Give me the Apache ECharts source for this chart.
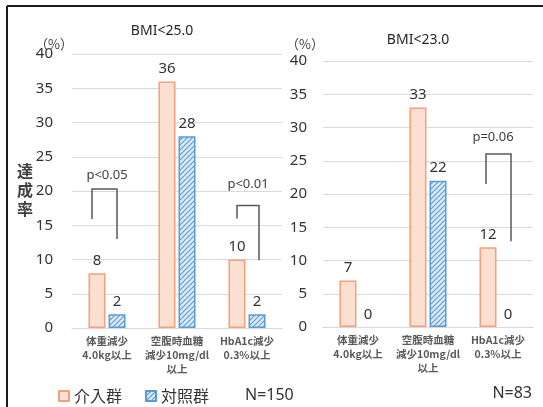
<!DOCTYPE html>
<html><head><meta charset="utf-8">
<script src="https://cdn.jsdelivr.net/npm/echarts@6/dist/echarts.min.js"></script>
<style>html,body{margin:0;padding:0;background:#fff}#c{width:543px;height:407px}</style>
</head><body><div id="c"></div>
<script>
const categories = ['体重減少\n4.0kg以上', '空腹時血糖\n減少10mg/dl\n以上', 'HbA1c減少\n0.3%以上'];
const intervention25 = [8, 36, 10];
const control25 = [2, 28, 2];
const intervention23 = [7, 33, 12];
const control23 = [0, 22, 0];
const yTicks = [0, 5, 10, 15, 20, 25, 30, 35, 40];
const seriesNames = ['介入群', '対照群'];
const titles = ['BMI<25.0', 'BMI<23.0'];
const sampleSizes = ['N=150', 'N=83'];
// [category index, left leg bottom, bracket top, right leg bottom, label level, label]
const brackets25 = [[0, 15.9, 20.3, 13.0, 22.3, 'p<0.05'], [2, 16.0, 17.9, 9.9, 21.0, 'p<0.01']];
const brackets23 = [[2, 21.5, 26.0, 12.9, 28.6, 'p=0.06']];

const bracketOffsets = { 'p<0.05': [-15, 10, 0], 'p<0.01': [-10, 12, 1], 'p=0.06': [-12, 13, -5] };

const FONT = "'Noto Sans', 'Noto Sans CJK JP', sans-serif";
const JFONT = "'Noto Sans CJK JP', sans-serif";

function hatch() {
  const c = document.createElement('canvas');
  c.width = 5; c.height = 5;
  const g = c.getContext('2d');
  g.fillStyle = '#DCEAF7'; g.fillRect(0, 0, 5, 5);
  g.strokeStyle = '#5B9BD5'; g.lineWidth = 1.1;
  g.beginPath();
  g.moveTo(-1, 6); g.lineTo(6, -1);
  g.moveTo(-1, 1); g.lineTo(1, -1);
  g.moveTo(4, 6); g.lineTo(6, 4);
  g.stroke();
  return c;
}
const hatchImg = hatch();
const orangeStyle = { color: '#FBDFD1', borderColor: '#F5A07A', borderWidth: 1.5 };
const blueStyle = { color: { image: hatchImg, repeat: 'repeat' }, borderColor: '#5B9BD5', borderWidth: 1.5 };

function bracketSeries(data, idx) {
  return {
    type: 'custom', name: 'br' + idx, xAxisIndex: idx, yAxisIndex: idx, z: 10,
    encode: { x: 0, y: 2 },
    data: data.map(d => d.slice(0, 5)),
    renderItem: function (params, api) {
      const d = data[params.dataIndex];
      const off = bracketOffsets[d[5]];
      const c = d[0];
      const pL = api.coord([c, d[1]]);
      const pT = api.coord([c, d[2]]);
      const pR = api.coord([c, d[3]]);
      const pX = api.coord([c, d[4]]);
      const x0 = pL[0];
      return {
        type: 'group', children: [
          { type: 'polyline', shape: { points: [[x0 + off[0], pL[1]], [x0 + off[0], pT[1]], [x0 + off[1], pT[1]], [x0 + off[1], pR[1]]] },
            style: { stroke: '#595959', lineWidth: 1.5, fill: null } },
          { type: 'text', style: { text: d[5], x: x0 + off[2], y: pX[1], textAlign: 'center', textVerticalAlign: 'middle',
            fontSize: 13, fontFamily: FONT, fill: '#404040' } }
        ]
      };
    }
  };
}

function barSeries(name, values, idx, style) {
  return {
    type: 'bar', name: name, xAxisIndex: idx, yAxisIndex: idx,
    data: values.map(v => v === 0 ? { value: v, itemStyle: { borderWidth: 0, opacity: 0 }, label: { opacity: 1 } } : v),
    barWidth: 17, barGap: '18%', itemStyle: style,
    label: { show: true, position: 'top', distance: 5, fontSize: 15, fontFamily: FONT, color: '#333' }
  };
}

function xAxis(idx) {
  return {
    type: 'category', gridIndex: idx, data: categories,
    axisLine: { lineStyle: { color: '#D9D9D9', width: 1 } }, axisTick: { show: false },
    axisLabel: { interval: 0, fontSize: 10.5, fontWeight: 'bold', lineHeight: 14, color: '#595959', fontFamily: JFONT, margin: 6 }
  };
}
function yAxis(idx, margin) {
  return {
    type: 'value', gridIndex: idx, min: yTicks[0], max: yTicks[yTicks.length - 1], interval: yTicks[1] - yTicks[0],
    axisLine: { show: false }, axisTick: { show: false },
    splitLine: { lineStyle: { color: '#D9D9D9', width: 1 } },
    axisLabel: { fontSize: 15, color: '#333', fontFamily: FONT, margin: margin }
  };
}

const chart = echarts.init(document.getElementById('c'), null, { renderer: 'canvas' });
chart.setOption({
  animation: false,
  backgroundColor: '#fff',
  title: [
    { text: titles[0], left: 157, top: 19, textAlign: 'center', textStyle: { fontSize: 14, fontWeight: 'normal', color: '#262626', fontFamily: FONT } },
    { text: titles[1], left: 413, top: 28, textAlign: 'center', textStyle: { fontSize: 14, fontWeight: 'normal', color: '#262626', fontFamily: FONT } },
    { text: '（%）', left: 30, top: 33, textStyle: { fontSize: 13, fontWeight: 'normal', color: '#404040', fontFamily: JFONT } },
    { text: '（%）', left: 281, top: 33, textStyle: { fontSize: 13, fontWeight: 'normal', color: '#404040', fontFamily: JFONT } },
    { text: '達\n成\n率', left: 12, top: 156, textStyle: { fontSize: 16, fontWeight: 'bold', lineHeight: 19, color: '#404040', fontFamily: JFONT } },
    { text: sampleSizes[0], left: 240, top: 382, textStyle: { fontSize: 16, fontWeight: 'normal', color: '#333', fontFamily: FONT } },
    { text: sampleSizes[1], right: 6, top: 380, textStyle: { fontSize: 16, fontWeight: 'normal', color: '#333', fontFamily: FONT } }
  ],
  legend: {
    data: seriesNames, left: 53, top: 383, itemWidth: 10, itemHeight: 10, itemGap: 23, icon: 'rect',
    textStyle: { fontSize: 16, color: '#333', fontFamily: JFONT }
  },
  grid: [
    { left: 72, right: 261, top: 54, bottom: 79 },
    { left: 323, right: 10, top: 61, bottom: 80 }
  ],
  xAxis: [xAxis(0), xAxis(1)],
  yAxis: [yAxis(0, 19), yAxis(1, 16)],
  series: [
    barSeries(seriesNames[0], intervention25, 0, orangeStyle),
    barSeries(seriesNames[1], control25, 0, blueStyle),
    barSeries(seriesNames[0], intervention23, 1, orangeStyle),
    barSeries(seriesNames[1], control23, 1, blueStyle),
    bracketSeries(brackets25, 0),
    bracketSeries(brackets23, 1)
  ],
  graphic: [
    { type: 'line', shape: { x1: 7, y1: 6, x2: 543, y2: 6 }, style: { stroke: '#1a1a1a', lineWidth: 2 } },
    { type: 'line', shape: { x1: 7, y1: 6, x2: 7, y2: 407 }, style: { stroke: '#1a1a1a', lineWidth: 2 } }
  ]
});
</script></body></html>
